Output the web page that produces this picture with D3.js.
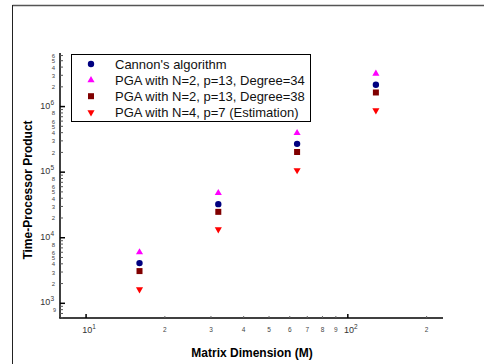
<!DOCTYPE html>
<html>
<head>
<meta charset="utf-8">
<script src="https://cdn.jsdelivr.net/npm/d3@7"></script>
<style>
  body { margin: 0; background: #fff; }
  svg { display: block; font-family: Arial, "Liberation Sans", sans-serif; }
</style>
</head>
<body>
<svg id="chart" width="484" height="364"></svg>
<script>
// matrix sizes (x) and time-processor product per series
var dims = [16, 32, 64, 128];
var cannon = [4100, 32500, 270000, 2150000];
var pga34 = [6000, 48000, 395000, 3170000];
var pga38 = [3100, 24800, 203000, 1640000];
var pgaEst = [1630, 13400, 107000, 875000];

var seriesNames = [
  "Cannon's algorithm",
  "PGA with N=2, p=13, Degree=34",
  "PGA with N=2, p=13, Degree=38",
  "PGA with N=4, p=7 (Estimation)"
];
var seriesValues = [cannon, pga34, pga38, pgaEst];

var colors = ["#000080", "#ff00ff", "#800000", "#ff0000"];
var shapes = [
  {type: d3.symbolCircle, size: 32, rot: 0},
  {type: d3.symbolTriangle, size: 22, rot: 0},
  {type: d3.symbolSquare, size: 36, rot: 0},
  {type: d3.symbolTriangle, size: 22, rot: 180}
];

var svg = d3.select('#chart');

// outer frame (only top and left edges show)
svg.append('line').attr('x1', 12.5).attr('y1', 5.5).attr('x2', 484).attr('y2', 5.5)
  .attr('stroke', '#555').attr('stroke-width', 1.5);
svg.append('line').attr('x1', 12.5).attr('y1', 5).attr('x2', 12.5).attr('y2', 364)
  .attr('stroke', '#222').attr('stroke-width', 1);

var x = d3.scaleLog().domain([7.95, 231]).range([60, 443]);
var y = d3.scaleLog().domain([597, 6.56e6]).range([318, 53]);

var ax = svg.append('g');

// axis lines
ax.append('line').attr('x1', 60).attr('x2', 60).attr('y1', y.range()[1]).attr('y2', 318.5)
  .attr('stroke', '#000').attr('stroke-width', 1.5);
ax.append('line').attr('x1', 59.5).attr('x2', 443).attr('y1', 318).attr('y2', 318)
  .attr('stroke', '#000').attr('stroke-width', 1.5);

function superLabel(g, tx, ty, exp, anchor) {
  var t = g.append('text').attr('x', tx).attr('y', ty)
    .attr('text-anchor', anchor).attr('font-size', 9).attr('fill', '#333');
  t.append('tspan').text('10');
  t.append('tspan').attr('dy', -4).attr('font-size', 6.5).text(exp);
}

// y ticks
y.ticks().forEach(function(v) {
  var yy = y(v);
  var e = Math.floor(Math.log10(v) + 1e-9);
  var m = Math.round(v / Math.pow(10, e));
  var major = m === 1;
  ax.append('line').attr('x1', 60).attr('x2', 60 + (major ? 5 : 3))
    .attr('y1', yy).attr('y2', yy)
    .attr('stroke', major ? '#000' : '#555').attr('stroke-width', major ? 1.5 : 1);
  if (major) {
    superLabel(ax, 54, yy + 2, e, 'end');
  } else if (v >= 1000 && [2, 3, 4, 5, 6, 8].indexOf(m) >= 0) {
    ax.append('text').attr('x', 55).attr('y', yy + 2.5)
      .attr('text-anchor', 'end').attr('font-size', 6).attr('fill', '#444')
      .text(m);
  } else if (v === 900) {
    // tucked under the 10^3 label, as in the original
    ax.append('text').attr('x', 56).attr('y', yy + 6)
      .attr('text-anchor', 'end').attr('font-size', 5.5).attr('fill', '#444')
      .text(m);
  }
});

// x ticks (none drawn below 10)
x.ticks().filter(function(v) { return v >= 10; }).forEach(function(v) {
  var xx = x(v);
  var e = Math.floor(Math.log10(v) + 1e-9);
  var m = Math.round(v / Math.pow(10, e));
  var major = m === 1;
  ax.append('line').attr('x1', xx).attr('x2', xx)
    .attr('y1', 318).attr('y2', 318 - (major ? 4 : 2))
    .attr('stroke', major ? '#000' : '#666').attr('stroke-width', major ? 1.5 : 1);
  if (major) {
    superLabel(ax, xx + 3, 333, e, 'middle');
  } else {
    ax.append('text').attr('x', xx).attr('y', 331.5)
      .attr('text-anchor', 'middle').attr('font-size', 6.5).attr('fill', '#444')
      .text(m);
  }
});

// axis titles
svg.append('text').attr('x', 252).attr('y', 357).attr('text-anchor', 'middle')
  .attr('font-size', 12).attr('font-weight', 'bold').text('Matrix Dimension (M)');
svg.append('text').attr('transform', 'translate(32,190) rotate(-90)')
  .attr('text-anchor', 'middle')
  .attr('font-size', 12).attr('font-weight', 'bold').text('Time-Processor Product');

// points
seriesValues.forEach(function(vals, i) {
  var sym = d3.symbol().type(shapes[i].type).size(shapes[i].size);
  svg.append('g').selectAll('path')
    .data(vals)
    .join('path')
    .attr('d', sym)
    .attr('transform', function(d, j) {
      return 'translate(' + x(dims[j]) + ',' + y(d) + ') rotate(' + shapes[i].rot + ')';
    })
    .attr('fill', colors[i]);
});

// legend
var lg = svg.append('g');
lg.append('rect').attr('x', 71.5).attr('y', 54.5).attr('width', 239).attr('height', 67)
  .attr('fill', '#fff').attr('stroke', '#000').attr('stroke-width', 1);
seriesNames.forEach(function(name, i) {
  var ly = 64 + i * 16.1;
  var sym = d3.symbol().type(shapes[i].type).size(shapes[i].size);
  lg.append('path').attr('d', sym)
    .attr('transform', 'translate(91,' + ly + ') rotate(' + shapes[i].rot + ')')
    .attr('fill', colors[i]);
  lg.append('text').attr('x', 115).attr('y', ly + 4.5)
    .attr('font-size', 13).attr('fill', '#111').text(name);
});
</script>
</body>
</html>
